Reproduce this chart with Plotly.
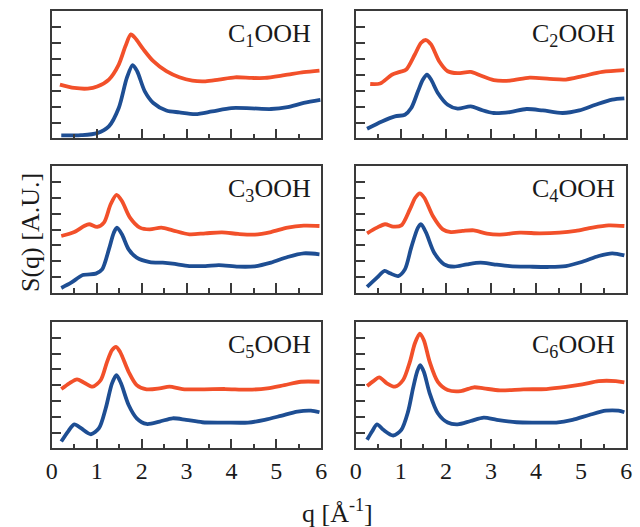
import plotly.graph_objects as go
from plotly.subplots import make_subplots

# ---------------- data ----------------
panel_labels = ["C<sub>1</sub>OOH", "C<sub>2</sub>OOH", "C<sub>3</sub>OOH",
                "C<sub>4</sub>OOH", "C<sub>5</sub>OOH", "C<sub>6</sub>OOH"]

x_tick_vals = [0, 1, 2, 3, 4, 5, 6]
x_tick_text = ["0", "1", "2", "3", "4", "5", "6"]

# C1OOH
q_c1_orange = [0.18, 0.5, 0.8, 1.01, 1.27, 1.49, 1.64, 1.76, 1.85, 2.04, 2.26, 2.55, 2.84, 3.13, 3.42, 3.72, 4.08, 4.45, 4.74, 5.18, 5.61, 5.96]
s_c1_orange = [3.38, 3.17, 3.13, 3.26, 3.7, 4.64, 5.8, 6.53, 6.32, 5.59, 4.85, 4.22, 3.84, 3.63, 3.59, 3.7, 3.84, 3.8, 3.8, 3.97, 4.16, 4.26]
q_c1_blue = [0.21, 0.65, 1.01, 1.27, 1.49, 1.67, 1.8, 1.9, 2.07, 2.26, 2.55, 2.84, 3.2, 3.57, 4.0, 4.45, 4.88, 5.25, 5.61, 5.98]
s_c1_blue = [0.19, 0.21, 0.34, 0.76, 1.91, 3.8, 4.6, 4.22, 2.96, 2.23, 1.76, 1.64, 1.53, 1.7, 1.91, 1.89, 1.85, 1.97, 2.23, 2.42]

# C2OOH
q_c2_orange = [0.32, 0.54, 0.8, 0.98, 1.12, 1.31, 1.45, 1.56, 1.67, 1.85, 2.04, 2.26, 2.55, 2.77, 3.06, 3.42, 3.86, 4.3, 4.66, 5.03, 5.47, 5.96]
s_c2_orange = [3.42, 3.45, 4.0, 4.18, 4.33, 5.27, 6.01, 6.18, 5.9, 4.85, 4.22, 4.1, 4.18, 3.95, 3.66, 3.63, 3.82, 3.74, 3.7, 3.91, 4.18, 4.29]
q_c2_blue = [0.25, 0.58, 0.87, 1.09, 1.23, 1.38, 1.49, 1.58, 1.67, 1.82, 2.04, 2.26, 2.55, 2.77, 3.06, 3.42, 3.79, 4.15, 4.59, 4.96, 5.32, 5.69, 5.96]
s_c2_blue = [0.61, 1.07, 1.39, 1.49, 1.91, 2.96, 3.7, 4.01, 3.7, 2.86, 2.12, 1.87, 2.02, 1.81, 1.6, 1.66, 1.85, 1.76, 1.6, 1.76, 2.12, 2.44, 2.52]

# C3OOH
q_c3_orange = [0.21, 0.5, 0.72, 0.83, 1.01, 1.16, 1.31, 1.44, 1.56, 1.74, 1.96, 2.18, 2.44, 2.69, 3.06, 3.42, 3.79, 4.15, 4.52, 4.88, 5.25, 5.61, 5.96]
s_c3_orange = [3.59, 3.84, 4.22, 4.33, 4.16, 4.43, 5.59, 6.18, 5.8, 4.75, 4.12, 4.01, 4.12, 3.95, 3.7, 3.76, 3.82, 3.72, 3.68, 3.84, 4.12, 4.24, 4.22]
q_c3_blue = [0.21, 0.43, 0.69, 0.98, 1.12, 1.27, 1.38, 1.45, 1.56, 1.71, 1.89, 2.18, 2.47, 2.69, 3.06, 3.42, 3.72, 4.15, 4.52, 4.88, 5.25, 5.61, 5.96]
s_c3_blue = [0.32, 0.65, 1.13, 1.22, 1.49, 2.75, 3.8, 4.12, 3.7, 2.75, 2.23, 1.95, 1.91, 1.85, 1.7, 1.7, 1.76, 1.66, 1.68, 1.91, 2.27, 2.5, 2.44]

# C4OOH
q_c4_orange = [0.25, 0.47, 0.65, 0.83, 1.01, 1.2, 1.32, 1.42, 1.52, 1.71, 1.93, 2.11, 2.37, 2.62, 2.91, 3.2, 3.64, 4.08, 4.52, 4.88, 5.25, 5.61, 5.96]
s_c4_orange = [3.76, 4.12, 4.33, 4.18, 4.26, 5.27, 6.0, 6.28, 6.0, 4.85, 4.01, 3.84, 3.91, 3.95, 3.74, 3.68, 3.8, 3.76, 3.8, 3.91, 4.12, 4.26, 4.22]
q_c4_blue = [0.25, 0.47, 0.64, 0.76, 0.94, 1.09, 1.23, 1.38, 1.45, 1.56, 1.74, 1.96, 2.18, 2.47, 2.77, 3.06, 3.42, 3.86, 4.3, 4.66, 5.03, 5.39, 5.69, 5.96]
s_c4_blue = [0.38, 0.97, 1.39, 1.24, 1.07, 1.49, 2.86, 4.12, 4.33, 3.8, 2.54, 1.81, 1.66, 1.81, 1.91, 1.81, 1.7, 1.66, 1.64, 1.7, 1.97, 2.33, 2.5, 2.37]

# C5OOH
q_c5_orange = [0.21, 0.39, 0.56, 0.72, 0.91, 1.09, 1.23, 1.34, 1.43, 1.52, 1.71, 1.89, 2.11, 2.4, 2.62, 2.91, 3.35, 3.86, 4.37, 4.8, 5.18, 5.55, 5.96]
s_c5_orange = [3.76, 4.12, 4.37, 4.16, 3.91, 4.33, 5.48, 6.22, 6.43, 6.11, 4.85, 4.01, 3.74, 3.8, 3.91, 3.76, 3.74, 3.76, 3.72, 3.8, 4.01, 4.22, 4.22]
q_c5_blue = [0.21, 0.36, 0.5, 0.65, 0.87, 1.05, 1.2, 1.34, 1.44, 1.54, 1.71, 1.89, 2.11, 2.4, 2.69, 2.99, 3.35, 3.86, 4.37, 4.74, 5.1, 5.47, 5.77, 5.96]
s_c5_blue = [0.44, 1.07, 1.53, 1.28, 0.9, 1.28, 2.54, 4.12, 4.64, 4.12, 2.75, 1.91, 1.55, 1.7, 1.91, 1.81, 1.66, 1.64, 1.64, 1.81, 2.06, 2.33, 2.39, 2.29]

# C6OOH
q_c6_orange = [0.25, 0.39, 0.52, 0.69, 0.87, 1.05, 1.2, 1.31, 1.42, 1.51, 1.64, 1.82, 2.04, 2.33, 2.62, 2.84, 3.2, 3.72, 4.23, 4.66, 5.03, 5.39, 5.77, 5.96]
s_c6_orange = [3.95, 4.26, 4.5, 4.12, 3.91, 4.33, 5.48, 6.64, 7.27, 6.85, 5.48, 4.22, 3.7, 3.63, 3.87, 3.8, 3.68, 3.74, 3.76, 3.89, 4.05, 4.26, 4.26, 4.18]
q_c6_blue = [0.25, 0.36, 0.47, 0.61, 0.83, 1.01, 1.16, 1.27, 1.36, 1.43, 1.51, 1.64, 1.82, 2.04, 2.26, 2.55, 2.84, 3.13, 3.57, 4.0, 4.45, 4.81, 5.18, 5.55, 5.83, 5.96]
s_c6_blue = [0.55, 1.07, 1.53, 1.18, 0.82, 1.18, 2.33, 3.8, 4.85, 5.27, 4.85, 3.49, 2.23, 1.64, 1.53, 1.74, 1.95, 1.81, 1.66, 1.64, 1.64, 1.81, 2.12, 2.39, 2.39, 2.29]

orange_q = [q_c1_orange, q_c2_orange, q_c3_orange, q_c4_orange, q_c5_orange, q_c6_orange]
orange_s = [s_c1_orange, s_c2_orange, s_c3_orange, s_c4_orange, s_c5_orange, s_c6_orange]
blue_q = [q_c1_blue, q_c2_blue, q_c3_blue, q_c4_blue, q_c5_blue, q_c6_blue]
blue_s = [s_c1_blue, s_c2_blue, s_c3_blue, s_c4_blue, s_c5_blue, s_c6_blue]

# ---------------- styling ----------------
ORANGE = "#F2502A"
BLUE = "#1E4E93"
FRAME = "#3a3a3a"
FONT = "Liberation Serif"

x_domains = [[0.073, 0.502], [0.557, 0.9875]]
y_domains = [[0.7372, 0.9791], [0.444, 0.685], [0.149, 0.389]]

fig = make_subplots(rows=3, cols=2)

for i in range(6):
    r, c = i // 2 + 1, i % 2 + 1
    fig.add_trace(go.Scatter(x=orange_q[i], y=orange_s[i], mode="lines",
                             line=dict(color=ORANGE, width=3.8, shape="spline", smoothing=0.8),
                             showlegend=False), row=r, col=c)
    fig.add_trace(go.Scatter(x=blue_q[i], y=blue_s[i], mode="lines",
                             line=dict(color=BLUE, width=3.8, shape="spline", smoothing=0.8),
                             showlegend=False), row=r, col=c)
    fig.update_xaxes(row=r, col=c, domain=x_domains[c - 1], range=[0, 6],
                     tickvals=x_tick_vals, ticktext=x_tick_text,
                     ticks="inside", ticklen=10, tickwidth=1.5, tickcolor=FRAME,
                     minor=dict(dtick=0.5, ticks="inside", ticklen=5, tickwidth=1.5, tickcolor=FRAME),
                     showticklabels=(r == 3),
                     tickfont=dict(family=FONT, size=24, color="#1a1a1a"),
                     showline=True, linecolor=FRAME, linewidth=1.8, mirror=True,
                     showgrid=False, zeroline=False)
    fig.update_yaxes(row=r, col=c, domain=y_domains[r - 1], range=[0, 8],
                     dtick=1, tick0=0, ticks="inside", ticklen=9, tickwidth=1.5, tickcolor=FRAME,
                     showticklabels=False,
                     showline=True, linecolor=FRAME, linewidth=1.8, mirror=True,
                     showgrid=False, zeroline=False)
    xref = "x domain" if i == 0 else f"x{i + 1} domain"
    yref = "y domain" if i == 0 else f"y{i + 1} domain"
    fig.add_annotation(text=panel_labels[i], xref=xref, yref=yref, x=0.968, y=0.95,
                       xanchor="right", yanchor="top", showarrow=False,
                       font=dict(family=FONT, size=26, color="#1a1a1a"))

fig.add_annotation(text="S(q) [A.U.]", xref="paper", yref="paper", x=0.04, y=0.558,
                   textangle=-90, showarrow=False, xanchor="center", yanchor="middle",
                   font=dict(family=FONT, size=26, color="#1a1a1a"))
fig.add_annotation(text="q [Å<sup>-1</sup>]", xref="paper", yref="paper", x=0.528, y=0.064,
                   showarrow=False, xanchor="center", yanchor="top",
                   font=dict(family=FONT, size=26, color="#1a1a1a"))

fig.update_layout(width=640, height=527, margin=dict(l=0, r=0, t=0, b=0),
                  paper_bgcolor="white", plot_bgcolor="white")

fig.write_html("out.html", config={"displayModeBar": False},
               post_script="document.body.style.margin='0';document.body.style.overflow='hidden';")
